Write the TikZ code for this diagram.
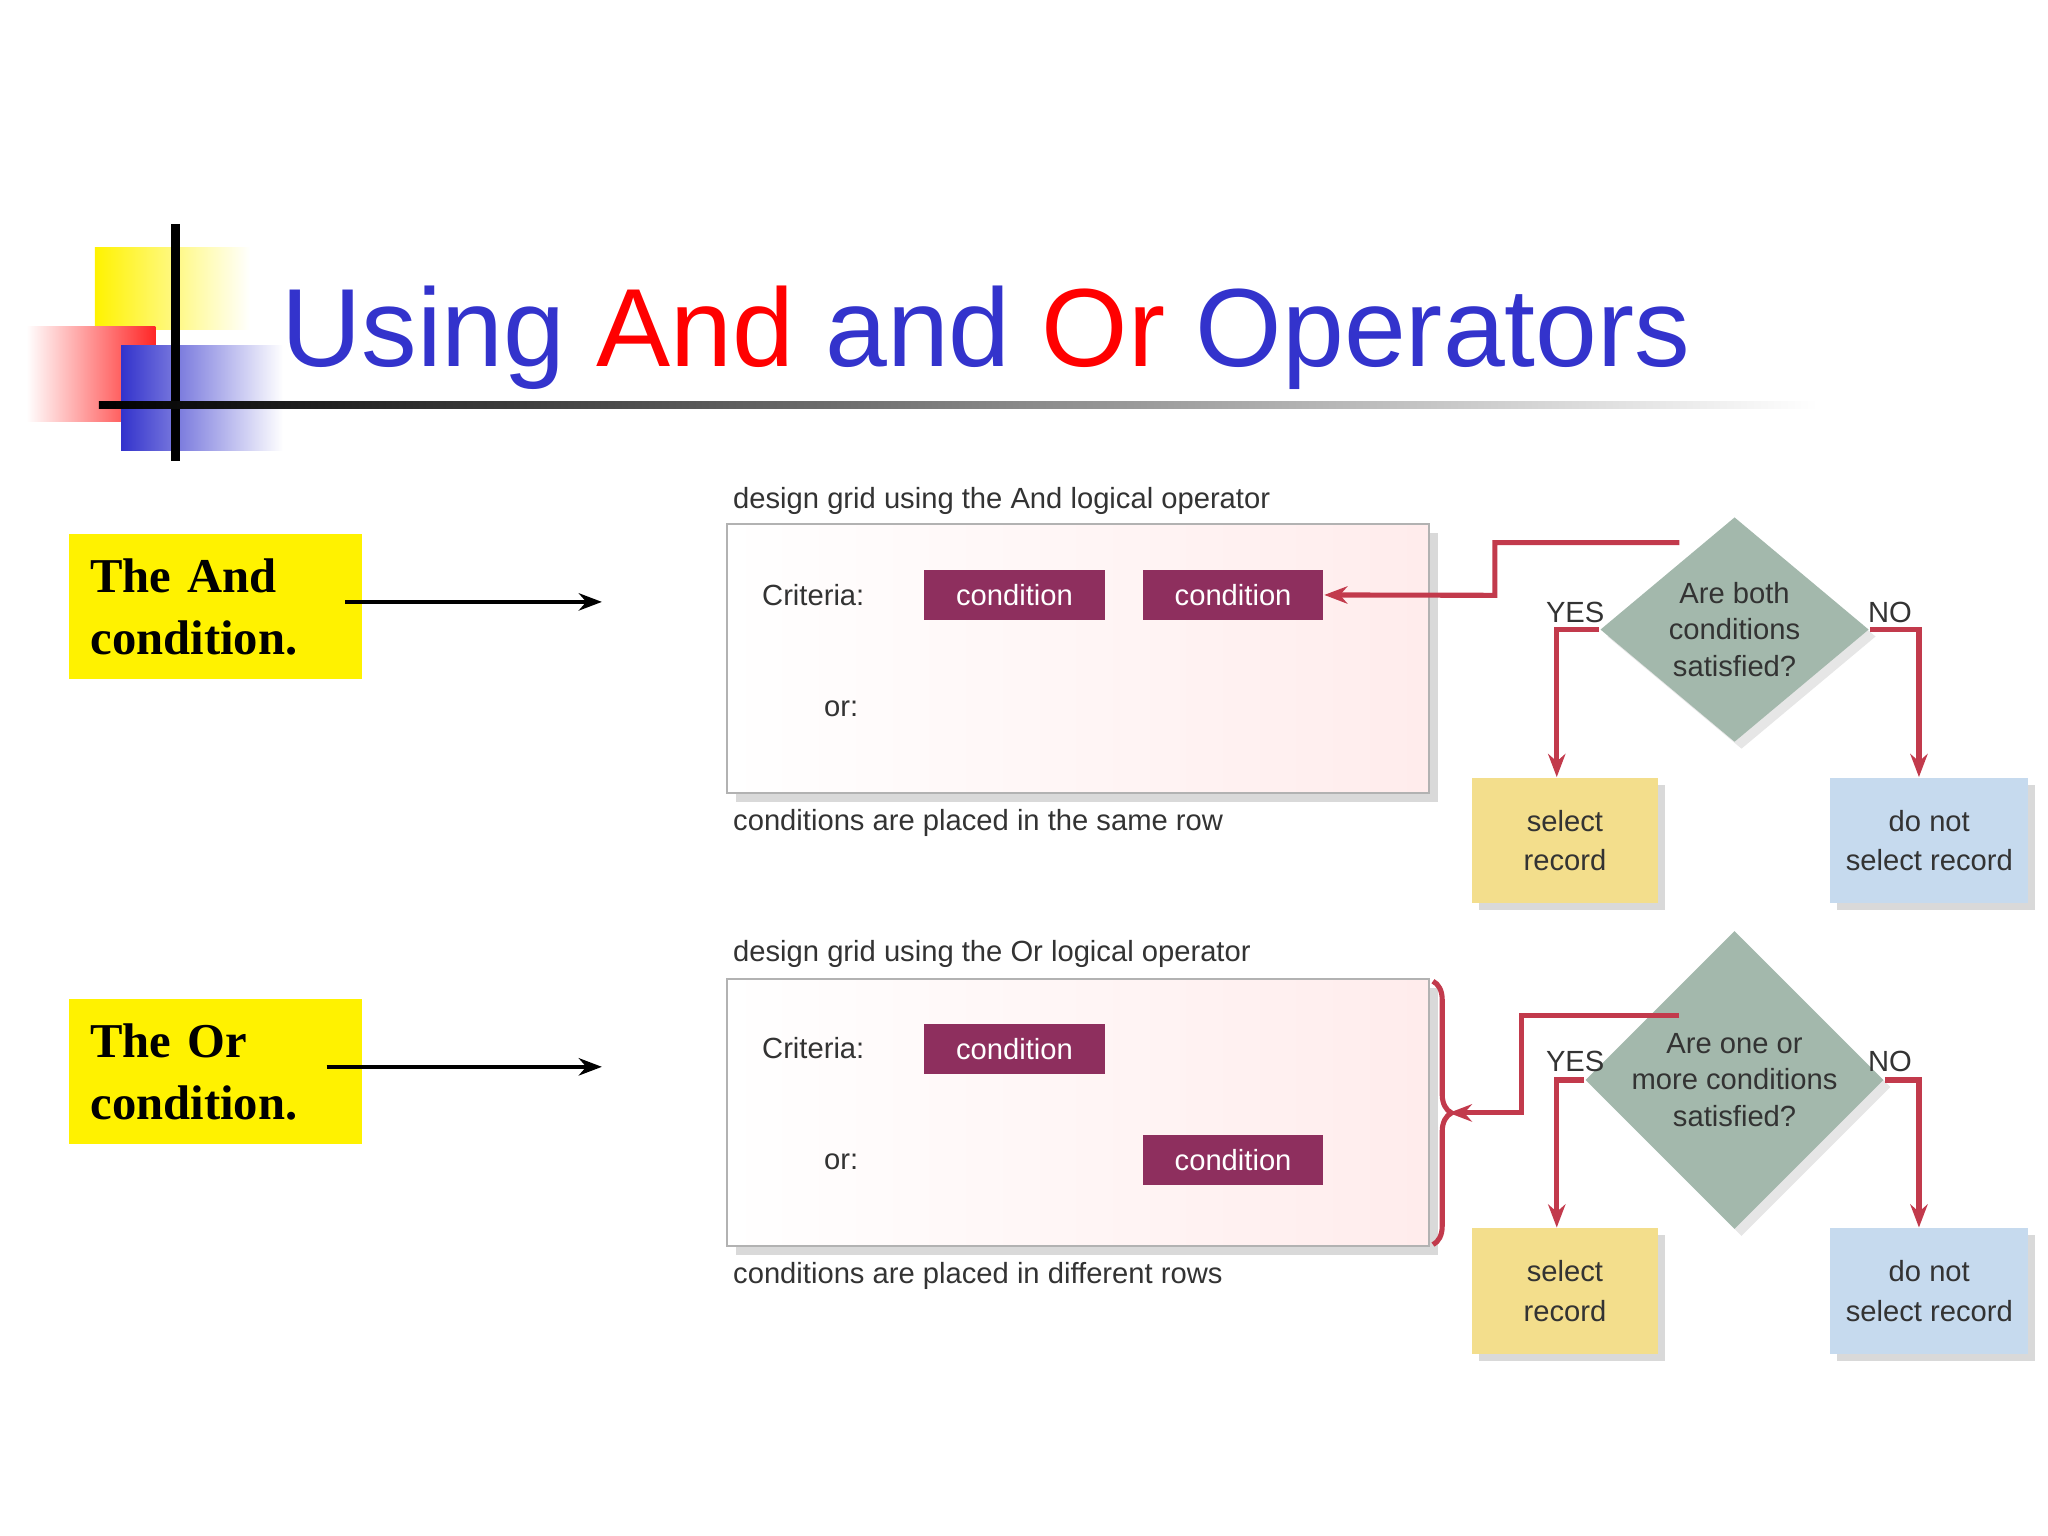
\documentclass[tikz,border=0pt]{standalone}
\usepackage{fontspec}
\setmainfont{Liberation Sans}
\newfontfamily\serifb{Liberation Serif}
\usetikzlibrary{shapes.geometric,arrows.meta,decorations.pathreplacing,shadows}
\definecolor{ttl}{HTML}{3333CC}
\definecolor{cond}{HTML}{8E2F5E}
\definecolor{lnk}{HTML}{C23A4C}
\definecolor{dia}{HTML}{A3B8AC}
\definecolor{sel}{HTML}{F3DE8C}
\definecolor{nsel}{HTML}{C6DAEE}
\definecolor{txt}{HTML}{333333}
\tikzset{
 condbox/.style={fill=cond,text=white,minimum width=1.37cm,minimum height=0.38cm,inner sep=0,font=\fontsize{6.3}{7}\selectfont},
 lbl/.style={text=txt,font=\fontsize{6.3}{7}\selectfont,inner sep=0},
 panel/.style={draw=gray!60,left color=white,right color=pink!30!white,drop shadow={shadow xshift=2pt,shadow yshift=-2pt,opacity=0.3}},
 decis/.style={diamond,aspect=1,fill=dia,minimum width=2.04cm,inner sep=0,align=center,text=txt,font=\fontsize{6.3}{7.8}\selectfont,drop shadow={shadow xshift=1.5pt,shadow yshift=-1.5pt,opacity=0.2}},
 outbox/.style={minimum width=1.41cm,minimum height=0.95cm,align=center,text=txt,font=\fontsize{6.3}{8.5}\selectfont,drop shadow={shadow xshift=1.5pt,shadow yshift=-1.5pt,opacity=0.3}},
 conn/.style={draw=lnk,line width=1.1pt,-{Stealth[length=5pt]}},
 ybox/.style={fill=yellow,minimum width=2.22cm,minimum height=1.1cm,inner sep=0,text width=1.9cm,align=left,font=\serifb\bfseries\fontsize{10.5}{13.5}\selectfont},
 blk/.style={-{Stealth[length=5pt]},line width=0.8pt}
}
\begin{document}
\begin{tikzpicture}[x=0.01cm,y=-0.01cm]
\useasboundingbox (0,0) rectangle (1555,1166);
% logo
\fill[left color=yellow!90!orange,right color=white] (72,188) rectangle (190,250);
\shade[left color=white,right color=red!85] (20,248) rectangle (118,320);
\shade[left color=ttl,right color=white] (92,262) rectangle (215,342);
\draw[line width=2pt] (133,170) -- (133,350);
\shade[left color=black,right color=white] (75,305) rectangle (1380,310);
\node[anchor=base west,inner sep=0,font=\fontsize{24}{28}\selectfont,text=ttl] (title) at (213,278) {Using \textcolor{red}{And} and \textcolor{red}{Or} Operators};
% left boxes
\node[ybox,anchor=north west] (ya) at (52,405) {The And condition.};
\node[ybox,anchor=north west] (yo) at (52,758) {The Or condition.};
\coordinate (ae) at (457,457); \coordinate (oe) at (457,810);
\draw[blk] (262,457) -- (ae);
\draw[blk] (248,810) -- (oe);
% panel 1
\node[lbl,anchor=west] (t1) at (556,380) {design grid using the And logical operator};
\path[panel] (552,398) rectangle (1085,602);
\node[lbl,anchor=west] (c1) at (578,452) {Criteria:};
\node[lbl,anchor=west] (o1) at (625,538) {or:};
\node[condbox,anchor=north west] (a1) at (701,432) {condition};
\node[condbox,anchor=north west] (a2) at (867,432) {condition};
\node[lbl,anchor=west] (b1) at (556,625) {conditions are placed in the same row};
\node[decis] (d1) at (1317,478) {Are both\\conditions\\satisfied?};
\node[outbox,fill=sel,anchor=north west] (s1) at (1117,590) {select\\record};
\node[outbox,fill=nsel,anchor=north west] (n1) at (1389,590) {do not\\select record};
\node[lbl] (y1) at (1196,465) {YES};
\node[lbl] (no1) at (1435,465) {NO};
\draw[conn] (d1.west) -| (s1.north -| 1182,0);
\draw[conn] (d1.east) -| (n1.north -| 1457,0);
\draw[conn] (1275,412) -- (1135,412) -- (1135,452) -- (a2.east);
% panel 2
\node[lbl,anchor=west] (t2) at (556,724) {design grid using the Or logical operator};
\path[panel] (552,743) rectangle (1085,946);
\node[lbl,anchor=west] (c2) at (578,796) {Criteria:};
\node[lbl,anchor=west] (o2) at (625,882) {or:};
\node[condbox,anchor=north west] (a3) at (701,777) {condition};
\node[condbox,anchor=north west] (a4) at (867,861) {condition};
\node[lbl,anchor=west] (b2) at (556,969) {conditions are placed in different rows};
\draw[lnk,line width=1.1pt,decorate,decoration={brace,amplitude=4pt}] (1088,745) -- (1088,945);
\coordinate (br) at (1100,845);
\node[decis] (d2) at (1317,820) {Are one or\\more conditions\\satisfied?};
\node[outbox,fill=sel,anchor=north west] (s2) at (1117,932) {select\\record};
\node[outbox,fill=nsel,anchor=north west] (n2) at (1389,932) {do not\\select record};
\node[lbl] (y2) at (1196,806) {YES};
\node[lbl] (no2) at (1435,806) {NO};
\draw[conn] (d2.west) -| (s2.north -| 1182,0);
\draw[conn] (d2.east) -| (n2.north -| 1457,0);
\draw[conn] (1275,771) -- (1155,771) -- (1155,845) -- (br);
\end{tikzpicture}
\end{document}
